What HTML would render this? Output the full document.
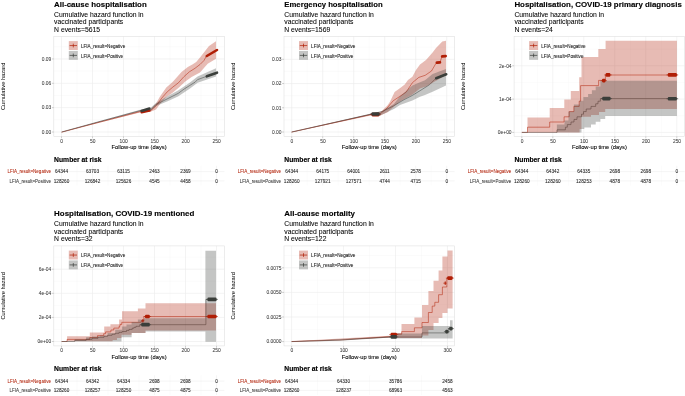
<!DOCTYPE html>
<html><head><meta charset="utf-8"><style>
html,body{margin:0;padding:0;background:#fff;}
svg{display:block;font-family:"Liberation Sans", sans-serif;will-change:transform;filter:blur(0.3px);}
</style></head><body>
<svg width="685" height="396" viewBox="0 0 685 396">
<rect width="685" height="396" fill="#fff"/>
<text x="54.1" y="6.9" font-size="7.9" text-anchor="start" font-weight="bold" fill="#000" textLength="92.6" lengthAdjust="spacingAndGlyphs" stroke="#000" stroke-width="0.12" >All-cause hospitalisation</text>
<text x="54.1" y="16.8" font-size="6.8" text-anchor="start" font-weight="normal" fill="#000" stroke="#000" stroke-width="0.06" >Cumulative hazard function in</text>
<text x="54.1" y="24.2" font-size="6.8" text-anchor="start" font-weight="normal" fill="#000" stroke="#000" stroke-width="0.06" >vaccinated participants</text>
<text x="54.1" y="31.5" font-size="6.8" text-anchor="start" font-weight="normal" fill="#000" stroke="#000" stroke-width="0.06" >N events=5615</text>
<line x1="77" y1="36.4" x2="77" y2="136.4" stroke="#f4f4f4" stroke-width="0.35"/>
<line x1="108" y1="36.4" x2="108" y2="136.4" stroke="#f4f4f4" stroke-width="0.35"/>
<line x1="139" y1="36.4" x2="139" y2="136.4" stroke="#f4f4f4" stroke-width="0.35"/>
<line x1="170" y1="36.4" x2="170" y2="136.4" stroke="#f4f4f4" stroke-width="0.35"/>
<line x1="201" y1="36.4" x2="201" y2="136.4" stroke="#f4f4f4" stroke-width="0.35"/>
<line x1="53.8" y1="119.82" x2="224.4" y2="119.82" stroke="#f4f4f4" stroke-width="0.35"/>
<line x1="53.8" y1="95.47" x2="224.4" y2="95.47" stroke="#f4f4f4" stroke-width="0.35"/>
<line x1="53.8" y1="71.12" x2="224.4" y2="71.12" stroke="#f4f4f4" stroke-width="0.35"/>
<line x1="53.8" y1="46.77" x2="224.4" y2="46.77" stroke="#f4f4f4" stroke-width="0.35"/>
<line x1="61.5" y1="36.4" x2="61.5" y2="136.4" stroke="#ebebeb" stroke-width="0.6"/>
<line x1="92.5" y1="36.4" x2="92.5" y2="136.4" stroke="#ebebeb" stroke-width="0.6"/>
<line x1="123.5" y1="36.4" x2="123.5" y2="136.4" stroke="#ebebeb" stroke-width="0.6"/>
<line x1="154.5" y1="36.4" x2="154.5" y2="136.4" stroke="#ebebeb" stroke-width="0.6"/>
<line x1="185.5" y1="36.4" x2="185.5" y2="136.4" stroke="#ebebeb" stroke-width="0.6"/>
<line x1="216.5" y1="36.4" x2="216.5" y2="136.4" stroke="#ebebeb" stroke-width="0.6"/>
<line x1="53.8" y1="132" x2="224.4" y2="132" stroke="#ebebeb" stroke-width="0.6"/>
<line x1="53.8" y1="107.65" x2="224.4" y2="107.65" stroke="#ebebeb" stroke-width="0.6"/>
<line x1="53.8" y1="83.3" x2="224.4" y2="83.3" stroke="#ebebeb" stroke-width="0.6"/>
<line x1="53.8" y1="58.95" x2="224.4" y2="58.95" stroke="#ebebeb" stroke-width="0.6"/>
<polyline points="61.6,132.2 100,122 141,111.4 150.6,110.8 156.1,105.8 161.7,98.2 167.2,91.9 172.8,87.1 178.3,82.9 183.9,76.7 189.4,71.8 195,68.3 200.1,64.4 203.9,60.6 206.4,56.2 217.2,49.9" fill="none" stroke="#b01e05" stroke-width="0.5" stroke-linejoin="miter"/>
<polyline points="61.6,132 100,121.4 141,110.4 150.6,109.9 156.1,104.4 161.7,101.7 167.2,98.9 172.8,96.1 178.3,93.3 183.9,89.2 189.4,85.7 195,82.2 197.6,79.6 200,78.75 206.4,76.4 217.2,72.6" fill="none" stroke="#3a3e3a" stroke-width="0.5" stroke-linejoin="miter"/>
<polygon points="61.6,132 141,110.6 150.6,109.4 156,103.5 160,96.5 166.3,87.5 172.6,82 176.4,77.8 181.5,72 187.8,67 192.8,64.2 196.2,62 200,57.5 209,46.1 216,41.3 216,58.7 207.7,63.8 200,72.4 191.6,77 185.3,81.5 178.9,87.5 172.6,92.8 166.3,97 160,104 156,109.5 150.6,111.8 141,112.2 61.6,132.3" fill="#b01e05" fill-opacity="0.3" stroke="none"/>
<polygon points="61.6,131.9 141,109.6 150.6,107.8 156,103 167,96.5 178,90.5 190,82.5 197.6,76.4 216,68.2 216,76.4 197.6,82.8 190,88.5 178,96.5 167,101.5 156,106 150.6,110.8 141,111 61.6,132.2" fill="#3a3e3a" fill-opacity="0.3" stroke="none"/>
<polyline points="141.6,112.3 149.4,110.5" fill="none" stroke="#b01e05" stroke-width="2.4" stroke-linecap="round" stroke-linejoin="round"/>
<polyline points="141.6,110.9 149.4,108.6" fill="none" stroke="#3a3e3a" stroke-width="2.6" stroke-linecap="round" stroke-linejoin="round"/>
<polyline points="206.8,56 217,50" fill="none" stroke="#b01e05" stroke-width="2.6" stroke-linecap="round" stroke-linejoin="round"/>
<polyline points="206.8,76.3 217,72.7" fill="none" stroke="#3a3e3a" stroke-width="2.6" stroke-linecap="round" stroke-linejoin="round"/>
<rect x="53.8" y="36.4" width="170.6" height="100" fill="none" stroke="#e0e0e0" stroke-width="0.6"/>
<line x1="51.9" y1="132" x2="53.8" y2="132" stroke="#a0a0a0" stroke-width="0.5"/>
<text x="51.3" y="133.75" font-size="4.9" text-anchor="end" font-weight="normal" fill="#3a3a3a" stroke="#3a3a3a" stroke-width="0.05" >0.00</text>
<line x1="51.9" y1="107.65" x2="53.8" y2="107.65" stroke="#a0a0a0" stroke-width="0.5"/>
<text x="51.3" y="109.4" font-size="4.9" text-anchor="end" font-weight="normal" fill="#3a3a3a" stroke="#3a3a3a" stroke-width="0.05" >0.03</text>
<line x1="51.9" y1="83.3" x2="53.8" y2="83.3" stroke="#a0a0a0" stroke-width="0.5"/>
<text x="51.3" y="85.05" font-size="4.9" text-anchor="end" font-weight="normal" fill="#3a3a3a" stroke="#3a3a3a" stroke-width="0.05" >0.06</text>
<line x1="51.9" y1="58.95" x2="53.8" y2="58.95" stroke="#a0a0a0" stroke-width="0.5"/>
<text x="51.3" y="60.7" font-size="4.9" text-anchor="end" font-weight="normal" fill="#3a3a3a" stroke="#3a3a3a" stroke-width="0.05" >0.09</text>
<line x1="61.5" y1="136.4" x2="61.5" y2="138.3" stroke="#a0a0a0" stroke-width="0.5"/>
<text x="61.7" y="142.7" font-size="4.9" text-anchor="middle" font-weight="normal" fill="#3a3a3a" stroke="#3a3a3a" stroke-width="0.05" >0</text>
<line x1="92.5" y1="136.4" x2="92.5" y2="138.3" stroke="#a0a0a0" stroke-width="0.5"/>
<text x="92.7" y="142.7" font-size="4.9" text-anchor="middle" font-weight="normal" fill="#3a3a3a" stroke="#3a3a3a" stroke-width="0.05" >50</text>
<line x1="123.5" y1="136.4" x2="123.5" y2="138.3" stroke="#a0a0a0" stroke-width="0.5"/>
<text x="123.7" y="142.7" font-size="4.9" text-anchor="middle" font-weight="normal" fill="#3a3a3a" stroke="#3a3a3a" stroke-width="0.05" >100</text>
<line x1="154.5" y1="136.4" x2="154.5" y2="138.3" stroke="#a0a0a0" stroke-width="0.5"/>
<text x="154.7" y="142.7" font-size="4.9" text-anchor="middle" font-weight="normal" fill="#3a3a3a" stroke="#3a3a3a" stroke-width="0.05" >150</text>
<line x1="185.5" y1="136.4" x2="185.5" y2="138.3" stroke="#a0a0a0" stroke-width="0.5"/>
<text x="185.7" y="142.7" font-size="4.9" text-anchor="middle" font-weight="normal" fill="#3a3a3a" stroke="#3a3a3a" stroke-width="0.05" >200</text>
<line x1="216.5" y1="136.4" x2="216.5" y2="138.3" stroke="#a0a0a0" stroke-width="0.5"/>
<text x="216.7" y="142.7" font-size="4.9" text-anchor="middle" font-weight="normal" fill="#3a3a3a" stroke="#3a3a3a" stroke-width="0.05" >250</text>
<text x="139.1" y="149" font-size="5.75" text-anchor="middle" font-weight="normal" fill="#000" stroke="#000" stroke-width="0.08" >Follow-up time (days)</text>
<text x="5" y="86.4" font-size="5.7" text-anchor="middle" font-weight="normal" fill="#000" transform="rotate(-90 5 86.4)">Cumulative hazard</text>
<rect x="68.8" y="41.1" width="9" height="8.9" fill="#b01e05" fill-opacity="0.3"/>
<line x1="69.6" y1="45.55" x2="77" y2="45.55" stroke="#b01e05" stroke-width="0.7"/>
<line x1="73.3" y1="43.7" x2="73.3" y2="47.4" stroke="#b01e05" stroke-width="0.7"/>
<text x="80.9" y="47.85" font-size="4.6" text-anchor="start" font-weight="normal" fill="#1a1a1a" stroke="#1a1a1a" stroke-width="0.08" >LFIA_result=Negative</text>
<rect x="68.8" y="50.95" width="9" height="8.9" fill="#3a3e3a" fill-opacity="0.3"/>
<line x1="69.6" y1="55.4" x2="77" y2="55.4" stroke="#3a3e3a" stroke-width="0.7"/>
<line x1="73.3" y1="53.55" x2="73.3" y2="57.25" stroke="#3a3e3a" stroke-width="0.7"/>
<text x="80.9" y="57.7" font-size="4.6" text-anchor="start" font-weight="normal" fill="#1a1a1a" stroke="#1a1a1a" stroke-width="0.08" >LFIA_result=Positive</text>
<text x="54.1" y="161.5" font-size="7.0" text-anchor="start" font-weight="bold" fill="#000" textLength="47.4" lengthAdjust="spacingAndGlyphs" stroke="#000" stroke-width="0.15" >Number at risk</text>
<line x1="77" y1="165.8" x2="77" y2="185.5" stroke="#f4f4f4" stroke-width="0.35"/>
<line x1="108" y1="165.8" x2="108" y2="185.5" stroke="#f4f4f4" stroke-width="0.35"/>
<line x1="139" y1="165.8" x2="139" y2="185.5" stroke="#f4f4f4" stroke-width="0.35"/>
<line x1="170" y1="165.8" x2="170" y2="185.5" stroke="#f4f4f4" stroke-width="0.35"/>
<line x1="201" y1="165.8" x2="201" y2="185.5" stroke="#f4f4f4" stroke-width="0.35"/>
<line x1="61.5" y1="165.8" x2="61.5" y2="185.5" stroke="#ebebeb" stroke-width="0.5"/>
<line x1="92.5" y1="165.8" x2="92.5" y2="185.5" stroke="#ebebeb" stroke-width="0.5"/>
<line x1="123.5" y1="165.8" x2="123.5" y2="185.5" stroke="#ebebeb" stroke-width="0.5"/>
<line x1="154.5" y1="165.8" x2="154.5" y2="185.5" stroke="#ebebeb" stroke-width="0.5"/>
<line x1="185.5" y1="165.8" x2="185.5" y2="185.5" stroke="#ebebeb" stroke-width="0.5"/>
<line x1="216.5" y1="165.8" x2="216.5" y2="185.5" stroke="#ebebeb" stroke-width="0.5"/>
<line x1="53.8" y1="171.6" x2="224.4" y2="171.6" stroke="#ebebeb" stroke-width="0.5"/>
<line x1="53.8" y1="180.9" x2="224.4" y2="180.9" stroke="#ebebeb" stroke-width="0.5"/>
<text x="50.9" y="173.2" font-size="4.5" text-anchor="end" font-weight="normal" fill="#b01e05" stroke="#b01e05" stroke-width="0.05" >LFIA_result=Negative</text>
<text x="50.9" y="182.5" font-size="4.5" text-anchor="end" font-weight="normal" fill="#333" stroke="#333" stroke-width="0.05" >LFIA_result=Positive</text>
<text x="61.5" y="173.3" font-size="4.7" text-anchor="middle" font-weight="normal" fill="#222" stroke="#222" stroke-width="0.06" >64344</text>
<text x="92.5" y="173.3" font-size="4.7" text-anchor="middle" font-weight="normal" fill="#222" stroke="#222" stroke-width="0.06" >63703</text>
<text x="123.5" y="173.3" font-size="4.7" text-anchor="middle" font-weight="normal" fill="#222" stroke="#222" stroke-width="0.06" >63115</text>
<text x="154.5" y="173.3" font-size="4.7" text-anchor="middle" font-weight="normal" fill="#222" stroke="#222" stroke-width="0.06" >2463</text>
<text x="185.5" y="173.3" font-size="4.7" text-anchor="middle" font-weight="normal" fill="#222" stroke="#222" stroke-width="0.06" >2369</text>
<text x="216.5" y="173.3" font-size="4.7" text-anchor="middle" font-weight="normal" fill="#222" stroke="#222" stroke-width="0.06" >0</text>
<text x="61.5" y="182.6" font-size="4.7" text-anchor="middle" font-weight="normal" fill="#222" stroke="#222" stroke-width="0.06" >128260</text>
<text x="92.5" y="182.6" font-size="4.7" text-anchor="middle" font-weight="normal" fill="#222" stroke="#222" stroke-width="0.06" >126842</text>
<text x="123.5" y="182.6" font-size="4.7" text-anchor="middle" font-weight="normal" fill="#222" stroke="#222" stroke-width="0.06" >125626</text>
<text x="154.5" y="182.6" font-size="4.7" text-anchor="middle" font-weight="normal" fill="#222" stroke="#222" stroke-width="0.06" >4545</text>
<text x="185.5" y="182.6" font-size="4.7" text-anchor="middle" font-weight="normal" fill="#222" stroke="#222" stroke-width="0.06" >4458</text>
<text x="216.5" y="182.6" font-size="4.7" text-anchor="middle" font-weight="normal" fill="#222" stroke="#222" stroke-width="0.06" >0</text>
<text x="284.3" y="6.9" font-size="7.9" text-anchor="start" font-weight="bold" fill="#000" textLength="98.4" lengthAdjust="spacingAndGlyphs" stroke="#000" stroke-width="0.12" >Emergency hospitalisation</text>
<text x="284.3" y="16.8" font-size="6.8" text-anchor="start" font-weight="normal" fill="#000" stroke="#000" stroke-width="0.06" >Cumulative hazard function in</text>
<text x="284.3" y="24.2" font-size="6.8" text-anchor="start" font-weight="normal" fill="#000" stroke="#000" stroke-width="0.06" >vaccinated participants</text>
<text x="284.3" y="31.5" font-size="6.8" text-anchor="start" font-weight="normal" fill="#000" stroke="#000" stroke-width="0.06" >N events=1569</text>
<line x1="307.2" y1="36.4" x2="307.2" y2="136.4" stroke="#f4f4f4" stroke-width="0.35"/>
<line x1="338.2" y1="36.4" x2="338.2" y2="136.4" stroke="#f4f4f4" stroke-width="0.35"/>
<line x1="369.2" y1="36.4" x2="369.2" y2="136.4" stroke="#f4f4f4" stroke-width="0.35"/>
<line x1="400.2" y1="36.4" x2="400.2" y2="136.4" stroke="#f4f4f4" stroke-width="0.35"/>
<line x1="431.2" y1="36.4" x2="431.2" y2="136.4" stroke="#f4f4f4" stroke-width="0.35"/>
<line x1="284" y1="119.89" x2="454.6" y2="119.89" stroke="#f4f4f4" stroke-width="0.35"/>
<line x1="284" y1="95.66" x2="454.6" y2="95.66" stroke="#f4f4f4" stroke-width="0.35"/>
<line x1="284" y1="71.42" x2="454.6" y2="71.42" stroke="#f4f4f4" stroke-width="0.35"/>
<line x1="284" y1="47.19" x2="454.6" y2="47.19" stroke="#f4f4f4" stroke-width="0.35"/>
<line x1="291.7" y1="36.4" x2="291.7" y2="136.4" stroke="#ebebeb" stroke-width="0.6"/>
<line x1="322.7" y1="36.4" x2="322.7" y2="136.4" stroke="#ebebeb" stroke-width="0.6"/>
<line x1="353.7" y1="36.4" x2="353.7" y2="136.4" stroke="#ebebeb" stroke-width="0.6"/>
<line x1="384.7" y1="36.4" x2="384.7" y2="136.4" stroke="#ebebeb" stroke-width="0.6"/>
<line x1="415.7" y1="36.4" x2="415.7" y2="136.4" stroke="#ebebeb" stroke-width="0.6"/>
<line x1="446.7" y1="36.4" x2="446.7" y2="136.4" stroke="#ebebeb" stroke-width="0.6"/>
<line x1="284" y1="132" x2="454.6" y2="132" stroke="#ebebeb" stroke-width="0.6"/>
<line x1="284" y1="107.77" x2="454.6" y2="107.77" stroke="#ebebeb" stroke-width="0.6"/>
<line x1="284" y1="83.54" x2="454.6" y2="83.54" stroke="#ebebeb" stroke-width="0.6"/>
<line x1="284" y1="59.31" x2="454.6" y2="59.31" stroke="#ebebeb" stroke-width="0.6"/>
<polyline points="291.6,132.1 371,114.5 380.6,113.5 387,108.1 393.3,100.7 399.7,96.5 406.1,92.2 412.4,82.7 418.8,77.4 425.2,75.3 431.5,71 435.8,63.6 440,62.5 442,56.2 446,56.2" fill="none" stroke="#b01e05" stroke-width="0.5" stroke-linejoin="miter"/>
<polyline points="291.6,132 371,114.2 382.7,111.3 393.3,106 404,99.7 412.4,95.4 421,90.1 429.4,84.8 435.8,78.4 446.4,74.2" fill="none" stroke="#3a3e3a" stroke-width="0.5" stroke-linejoin="miter"/>
<polygon points="291.6,132 371,114 380,112 381.3,111.6 387.6,105.3 390.1,101.5 394.6,92.1 400.2,88 404.7,84.5 408,80 412.4,76.8 416,70 420,64.5 426,60 432.6,52.5 436,48 442.3,41.6 446,40.7 446,75.3 432.6,82.8 426,86.5 420,88.5 412.4,94.4 400,101.5 393.9,106.6 387.6,112.3 380,115.8 371,115.4 291.6,132.3" fill="#b01e05" fill-opacity="0.3" stroke="none"/>
<polygon points="291.6,131.9 371,113.6 380,112.3 393.9,104.1 400,96.2 412.4,85.6 420,82.3 425,80.3 432.6,74 446,68.9 446,85.4 432.6,91.7 425,95 420,96.7 412.4,100.6 400,105 393.9,109.1 380,115.5 371,114.8 291.6,132.2" fill="#3a3e3a" fill-opacity="0.3" stroke="none"/>
<line x1="370.2" y1="114.6" x2="380.8" y2="114.6" stroke="#b01e05" stroke-width="0.6"/>
<rect x="371.5" y="112.75" width="8" height="3.7" rx="1.1" fill="#b01e05"/>
<line x1="370.2" y1="114" x2="380.8" y2="114" stroke="#3a3e3a" stroke-width="0.6"/>
<rect x="371.5" y="112.15" width="8" height="3.7" rx="1.1" fill="#3a3e3a"/>
<polyline points="436.8,62.6 440,62.4" fill="none" stroke="#b01e05" stroke-width="2.6" stroke-linecap="round" stroke-linejoin="round"/>
<polyline points="442.2,56.3 445.6,56.1" fill="none" stroke="#b01e05" stroke-width="2.8" stroke-linecap="round" stroke-linejoin="round"/>
<polyline points="436.2,78.2 446.2,74.3" fill="none" stroke="#3a3e3a" stroke-width="2.6" stroke-linecap="round" stroke-linejoin="round"/>
<rect x="284" y="36.4" width="170.6" height="100" fill="none" stroke="#e0e0e0" stroke-width="0.6"/>
<line x1="282.1" y1="132" x2="284" y2="132" stroke="#a0a0a0" stroke-width="0.5"/>
<text x="281.5" y="133.75" font-size="4.9" text-anchor="end" font-weight="normal" fill="#3a3a3a" stroke="#3a3a3a" stroke-width="0.05" >0.00</text>
<line x1="282.1" y1="107.77" x2="284" y2="107.77" stroke="#a0a0a0" stroke-width="0.5"/>
<text x="281.5" y="109.52" font-size="4.9" text-anchor="end" font-weight="normal" fill="#3a3a3a" stroke="#3a3a3a" stroke-width="0.05" >0.01</text>
<line x1="282.1" y1="83.54" x2="284" y2="83.54" stroke="#a0a0a0" stroke-width="0.5"/>
<text x="281.5" y="85.29" font-size="4.9" text-anchor="end" font-weight="normal" fill="#3a3a3a" stroke="#3a3a3a" stroke-width="0.05" >0.02</text>
<line x1="282.1" y1="59.31" x2="284" y2="59.31" stroke="#a0a0a0" stroke-width="0.5"/>
<text x="281.5" y="61.06" font-size="4.9" text-anchor="end" font-weight="normal" fill="#3a3a3a" stroke="#3a3a3a" stroke-width="0.05" >0.03</text>
<line x1="291.7" y1="136.4" x2="291.7" y2="138.3" stroke="#a0a0a0" stroke-width="0.5"/>
<text x="291.9" y="142.7" font-size="4.9" text-anchor="middle" font-weight="normal" fill="#3a3a3a" stroke="#3a3a3a" stroke-width="0.05" >0</text>
<line x1="322.7" y1="136.4" x2="322.7" y2="138.3" stroke="#a0a0a0" stroke-width="0.5"/>
<text x="322.9" y="142.7" font-size="4.9" text-anchor="middle" font-weight="normal" fill="#3a3a3a" stroke="#3a3a3a" stroke-width="0.05" >50</text>
<line x1="353.7" y1="136.4" x2="353.7" y2="138.3" stroke="#a0a0a0" stroke-width="0.5"/>
<text x="353.9" y="142.7" font-size="4.9" text-anchor="middle" font-weight="normal" fill="#3a3a3a" stroke="#3a3a3a" stroke-width="0.05" >100</text>
<line x1="384.7" y1="136.4" x2="384.7" y2="138.3" stroke="#a0a0a0" stroke-width="0.5"/>
<text x="384.9" y="142.7" font-size="4.9" text-anchor="middle" font-weight="normal" fill="#3a3a3a" stroke="#3a3a3a" stroke-width="0.05" >150</text>
<line x1="415.7" y1="136.4" x2="415.7" y2="138.3" stroke="#a0a0a0" stroke-width="0.5"/>
<text x="415.9" y="142.7" font-size="4.9" text-anchor="middle" font-weight="normal" fill="#3a3a3a" stroke="#3a3a3a" stroke-width="0.05" >200</text>
<line x1="446.7" y1="136.4" x2="446.7" y2="138.3" stroke="#a0a0a0" stroke-width="0.5"/>
<text x="446.9" y="142.7" font-size="4.9" text-anchor="middle" font-weight="normal" fill="#3a3a3a" stroke="#3a3a3a" stroke-width="0.05" >250</text>
<text x="369.3" y="149" font-size="5.75" text-anchor="middle" font-weight="normal" fill="#000" stroke="#000" stroke-width="0.08" >Follow-up time (days)</text>
<text x="235.2" y="86.4" font-size="5.7" text-anchor="middle" font-weight="normal" fill="#000" transform="rotate(-90 235.2 86.4)">Cumulative hazard</text>
<rect x="299" y="41.1" width="9" height="8.9" fill="#b01e05" fill-opacity="0.3"/>
<line x1="299.8" y1="45.55" x2="307.2" y2="45.55" stroke="#b01e05" stroke-width="0.7"/>
<line x1="303.5" y1="43.7" x2="303.5" y2="47.4" stroke="#b01e05" stroke-width="0.7"/>
<text x="311.1" y="47.85" font-size="4.6" text-anchor="start" font-weight="normal" fill="#1a1a1a" stroke="#1a1a1a" stroke-width="0.08" >LFIA_result=Negative</text>
<rect x="299" y="50.95" width="9" height="8.9" fill="#3a3e3a" fill-opacity="0.3"/>
<line x1="299.8" y1="55.4" x2="307.2" y2="55.4" stroke="#3a3e3a" stroke-width="0.7"/>
<line x1="303.5" y1="53.55" x2="303.5" y2="57.25" stroke="#3a3e3a" stroke-width="0.7"/>
<text x="311.1" y="57.7" font-size="4.6" text-anchor="start" font-weight="normal" fill="#1a1a1a" stroke="#1a1a1a" stroke-width="0.08" >LFIA_result=Positive</text>
<text x="284.3" y="161.5" font-size="7.0" text-anchor="start" font-weight="bold" fill="#000" textLength="47.4" lengthAdjust="spacingAndGlyphs" stroke="#000" stroke-width="0.15" >Number at risk</text>
<line x1="307.2" y1="165.8" x2="307.2" y2="185.5" stroke="#f4f4f4" stroke-width="0.35"/>
<line x1="338.2" y1="165.8" x2="338.2" y2="185.5" stroke="#f4f4f4" stroke-width="0.35"/>
<line x1="369.2" y1="165.8" x2="369.2" y2="185.5" stroke="#f4f4f4" stroke-width="0.35"/>
<line x1="400.2" y1="165.8" x2="400.2" y2="185.5" stroke="#f4f4f4" stroke-width="0.35"/>
<line x1="431.2" y1="165.8" x2="431.2" y2="185.5" stroke="#f4f4f4" stroke-width="0.35"/>
<line x1="291.7" y1="165.8" x2="291.7" y2="185.5" stroke="#ebebeb" stroke-width="0.5"/>
<line x1="322.7" y1="165.8" x2="322.7" y2="185.5" stroke="#ebebeb" stroke-width="0.5"/>
<line x1="353.7" y1="165.8" x2="353.7" y2="185.5" stroke="#ebebeb" stroke-width="0.5"/>
<line x1="384.7" y1="165.8" x2="384.7" y2="185.5" stroke="#ebebeb" stroke-width="0.5"/>
<line x1="415.7" y1="165.8" x2="415.7" y2="185.5" stroke="#ebebeb" stroke-width="0.5"/>
<line x1="446.7" y1="165.8" x2="446.7" y2="185.5" stroke="#ebebeb" stroke-width="0.5"/>
<line x1="284" y1="171.6" x2="454.6" y2="171.6" stroke="#ebebeb" stroke-width="0.5"/>
<line x1="284" y1="180.9" x2="454.6" y2="180.9" stroke="#ebebeb" stroke-width="0.5"/>
<text x="281.1" y="173.2" font-size="4.5" text-anchor="end" font-weight="normal" fill="#b01e05" stroke="#b01e05" stroke-width="0.05" >LFIA_result=Negative</text>
<text x="281.1" y="182.5" font-size="4.5" text-anchor="end" font-weight="normal" fill="#333" stroke="#333" stroke-width="0.05" >LFIA_result=Positive</text>
<text x="291.7" y="173.3" font-size="4.7" text-anchor="middle" font-weight="normal" fill="#222" stroke="#222" stroke-width="0.06" >64344</text>
<text x="322.7" y="173.3" font-size="4.7" text-anchor="middle" font-weight="normal" fill="#222" stroke="#222" stroke-width="0.06" >64175</text>
<text x="353.7" y="173.3" font-size="4.7" text-anchor="middle" font-weight="normal" fill="#222" stroke="#222" stroke-width="0.06" >64001</text>
<text x="384.7" y="173.3" font-size="4.7" text-anchor="middle" font-weight="normal" fill="#222" stroke="#222" stroke-width="0.06" >2611</text>
<text x="415.7" y="173.3" font-size="4.7" text-anchor="middle" font-weight="normal" fill="#222" stroke="#222" stroke-width="0.06" >2578</text>
<text x="446.7" y="173.3" font-size="4.7" text-anchor="middle" font-weight="normal" fill="#222" stroke="#222" stroke-width="0.06" >0</text>
<text x="291.7" y="182.6" font-size="4.7" text-anchor="middle" font-weight="normal" fill="#222" stroke="#222" stroke-width="0.06" >128260</text>
<text x="322.7" y="182.6" font-size="4.7" text-anchor="middle" font-weight="normal" fill="#222" stroke="#222" stroke-width="0.06" >127921</text>
<text x="353.7" y="182.6" font-size="4.7" text-anchor="middle" font-weight="normal" fill="#222" stroke="#222" stroke-width="0.06" >127571</text>
<text x="384.7" y="182.6" font-size="4.7" text-anchor="middle" font-weight="normal" fill="#222" stroke="#222" stroke-width="0.06" >4744</text>
<text x="415.7" y="182.6" font-size="4.7" text-anchor="middle" font-weight="normal" fill="#222" stroke="#222" stroke-width="0.06" >4715</text>
<text x="446.7" y="182.6" font-size="4.7" text-anchor="middle" font-weight="normal" fill="#222" stroke="#222" stroke-width="0.06" >0</text>
<text x="514.4" y="6.9" font-size="7.9" text-anchor="start" font-weight="bold" fill="#000" textLength="167.4" lengthAdjust="spacingAndGlyphs" stroke="#000" stroke-width="0.12" >Hospitalisation, COVID-19 primary diagnosis</text>
<text x="514.4" y="16.8" font-size="6.8" text-anchor="start" font-weight="normal" fill="#000" stroke="#000" stroke-width="0.06" >Cumulative hazard function in</text>
<text x="514.4" y="24.2" font-size="6.8" text-anchor="start" font-weight="normal" fill="#000" stroke="#000" stroke-width="0.06" >vaccinated participants</text>
<text x="514.4" y="31.5" font-size="6.8" text-anchor="start" font-weight="normal" fill="#000" stroke="#000" stroke-width="0.06" >N events=24</text>
<line x1="537.3" y1="36.4" x2="537.3" y2="136.4" stroke="#f4f4f4" stroke-width="0.35"/>
<line x1="568.3" y1="36.4" x2="568.3" y2="136.4" stroke="#f4f4f4" stroke-width="0.35"/>
<line x1="599.3" y1="36.4" x2="599.3" y2="136.4" stroke="#f4f4f4" stroke-width="0.35"/>
<line x1="630.3" y1="36.4" x2="630.3" y2="136.4" stroke="#f4f4f4" stroke-width="0.35"/>
<line x1="661.3" y1="36.4" x2="661.3" y2="136.4" stroke="#f4f4f4" stroke-width="0.35"/>
<line x1="514.1" y1="115.75" x2="684.7" y2="115.75" stroke="#f4f4f4" stroke-width="0.35"/>
<line x1="514.1" y1="82.45" x2="684.7" y2="82.45" stroke="#f4f4f4" stroke-width="0.35"/>
<line x1="514.1" y1="49.15" x2="684.7" y2="49.15" stroke="#f4f4f4" stroke-width="0.35"/>
<line x1="521.8" y1="36.4" x2="521.8" y2="136.4" stroke="#ebebeb" stroke-width="0.6"/>
<line x1="552.8" y1="36.4" x2="552.8" y2="136.4" stroke="#ebebeb" stroke-width="0.6"/>
<line x1="583.8" y1="36.4" x2="583.8" y2="136.4" stroke="#ebebeb" stroke-width="0.6"/>
<line x1="614.8" y1="36.4" x2="614.8" y2="136.4" stroke="#ebebeb" stroke-width="0.6"/>
<line x1="645.8" y1="36.4" x2="645.8" y2="136.4" stroke="#ebebeb" stroke-width="0.6"/>
<line x1="676.8" y1="36.4" x2="676.8" y2="136.4" stroke="#ebebeb" stroke-width="0.6"/>
<line x1="514.1" y1="132.4" x2="684.7" y2="132.4" stroke="#ebebeb" stroke-width="0.6"/>
<line x1="514.1" y1="99.1" x2="684.7" y2="99.1" stroke="#ebebeb" stroke-width="0.6"/>
<line x1="514.1" y1="65.8" x2="684.7" y2="65.8" stroke="#ebebeb" stroke-width="0.6"/>
<polyline points="521.8,132.4 527.5,132.4 527.5,127.2 549.7,127.2 549.7,122 564.1,122 564.1,116.8 569.2,116.8 569.2,111.6 573.9,111.6 573.9,106.4 579.2,106.4 579.2,101.2 580.6,101.2 580.6,85.6 598.6,85.6 598.6,80.4 605.4,80.4 605.4,75 677.5,75 677.5,75" fill="none" stroke="#b01e05" stroke-width="0.5" stroke-linejoin="miter"/>
<polyline points="521.8,132.4 557,132.4 557,129.8 565.4,129.8 565.4,127.2 567.3,127.2 567.3,124.6 571,124.6 571,122 574,122 574,119.4 577,119.4 577,116.8 581.5,116.8 581.5,114.2 583.5,114.2 583.5,111.6 586.2,111.6 586.2,109 591,109 591,106.4 595.7,106.4 595.7,103.8 598,103.8 598,101.2 600.4,101.2 600.4,98.6 677.5,98.6 677.5,98.6" fill="none" stroke="#3a3e3a" stroke-width="0.5" stroke-linejoin="miter"/>
<polygon points="521.8,132.4 527.5,132.4 527.5,117.5 549.7,117.5 549.7,108 564.3,108 564.3,99.5 570.8,99.5 570.8,91.1 579.2,91.1 579.2,77.2 581.5,77.2 581.5,57 598.3,57 598.3,48.9 605.6,48.9 605.6,40.8 676.9,40.8 676.9,40.8 676.9,109 676.9,109 605.2,109 605.2,112 599,112 599,115 591,115 591,116.8 581.5,116.8 581.5,129 579.6,129 579.6,132.4 521.8,132.4" fill="#b01e05" fill-opacity="0.3" stroke="none"/>
<polygon points="556.9,132.4 556.9,132.4 556.9,124.6 564.5,124.6 564.5,120.6 568.5,120.6 568.5,111.5 573.9,111.5 573.9,104.5 579.6,104.5 579.6,100.7 583.4,100.7 583.4,96.9 588.1,96.9 588.1,94 591.9,94 591.9,90.3 595.7,90.3 595.7,86.5 600.4,86.5 600.4,80.8 676.9,80.8 676.9,80.8 676.9,116.1 676.9,116.1 605.2,116.1 605.2,119 600.4,119 600.4,121.8 595.7,121.8 595.7,124.5 591,124.5 591,127.5 584.3,127.5 584.3,129 581.5,129 581.5,132.4 556.9,132.4" fill="#3a3e3a" fill-opacity="0.3" stroke="none"/>
<line x1="600.7" y1="80.6" x2="606.9" y2="80.6" stroke="#b01e05" stroke-width="0.6"/>
<rect x="602" y="78.75" width="3.6" height="3.7" rx="1.1" fill="#b01e05"/>
<line x1="604.3" y1="74.9" x2="611.7" y2="74.9" stroke="#b01e05" stroke-width="0.6"/>
<rect x="605.6" y="73.05" width="4.8" height="3.7" rx="1.1" fill="#b01e05"/>
<line x1="666.5" y1="74.9" x2="678.2" y2="74.9" stroke="#b01e05" stroke-width="0.6"/>
<rect x="667.8" y="73.05" width="9.1" height="3.7" rx="1.1" fill="#b01e05"/>
<line x1="600.9" y1="98.6" x2="611.9" y2="98.6" stroke="#3a3e3a" stroke-width="0.6"/>
<rect x="602.2" y="96.75" width="8.4" height="3.7" rx="1.1" fill="#3a3e3a"/>
<line x1="666.5" y1="98.75" x2="678.2" y2="98.75" stroke="#3a3e3a" stroke-width="0.6"/>
<rect x="667.8" y="96.9" width="9.1" height="3.7" rx="1.1" fill="#3a3e3a"/>
<rect x="514.1" y="36.4" width="170.6" height="100" fill="none" stroke="#e0e0e0" stroke-width="0.6"/>
<line x1="512.2" y1="132.4" x2="514.1" y2="132.4" stroke="#a0a0a0" stroke-width="0.5"/>
<text x="511.6" y="134.15" font-size="4.9" text-anchor="end" font-weight="normal" fill="#3a3a3a" stroke="#3a3a3a" stroke-width="0.05" >0e+00</text>
<line x1="512.2" y1="99.1" x2="514.1" y2="99.1" stroke="#a0a0a0" stroke-width="0.5"/>
<text x="511.6" y="100.85" font-size="4.9" text-anchor="end" font-weight="normal" fill="#3a3a3a" stroke="#3a3a3a" stroke-width="0.05" >1e-04</text>
<line x1="512.2" y1="65.8" x2="514.1" y2="65.8" stroke="#a0a0a0" stroke-width="0.5"/>
<text x="511.6" y="67.55" font-size="4.9" text-anchor="end" font-weight="normal" fill="#3a3a3a" stroke="#3a3a3a" stroke-width="0.05" >2e-04</text>
<line x1="521.8" y1="136.4" x2="521.8" y2="138.3" stroke="#a0a0a0" stroke-width="0.5"/>
<text x="522" y="142.7" font-size="4.9" text-anchor="middle" font-weight="normal" fill="#3a3a3a" stroke="#3a3a3a" stroke-width="0.05" >0</text>
<line x1="552.8" y1="136.4" x2="552.8" y2="138.3" stroke="#a0a0a0" stroke-width="0.5"/>
<text x="553" y="142.7" font-size="4.9" text-anchor="middle" font-weight="normal" fill="#3a3a3a" stroke="#3a3a3a" stroke-width="0.05" >50</text>
<line x1="583.8" y1="136.4" x2="583.8" y2="138.3" stroke="#a0a0a0" stroke-width="0.5"/>
<text x="584" y="142.7" font-size="4.9" text-anchor="middle" font-weight="normal" fill="#3a3a3a" stroke="#3a3a3a" stroke-width="0.05" >100</text>
<line x1="614.8" y1="136.4" x2="614.8" y2="138.3" stroke="#a0a0a0" stroke-width="0.5"/>
<text x="615" y="142.7" font-size="4.9" text-anchor="middle" font-weight="normal" fill="#3a3a3a" stroke="#3a3a3a" stroke-width="0.05" >150</text>
<line x1="645.8" y1="136.4" x2="645.8" y2="138.3" stroke="#a0a0a0" stroke-width="0.5"/>
<text x="646" y="142.7" font-size="4.9" text-anchor="middle" font-weight="normal" fill="#3a3a3a" stroke="#3a3a3a" stroke-width="0.05" >200</text>
<line x1="676.8" y1="136.4" x2="676.8" y2="138.3" stroke="#a0a0a0" stroke-width="0.5"/>
<text x="677" y="142.7" font-size="4.9" text-anchor="middle" font-weight="normal" fill="#3a3a3a" stroke="#3a3a3a" stroke-width="0.05" >250</text>
<text x="599.4" y="149" font-size="5.75" text-anchor="middle" font-weight="normal" fill="#000" stroke="#000" stroke-width="0.08" >Follow-up time (days)</text>
<text x="465.3" y="86.4" font-size="5.7" text-anchor="middle" font-weight="normal" fill="#000" transform="rotate(-90 465.3 86.4)">Cumulative hazard</text>
<rect x="529.1" y="41.1" width="9" height="8.9" fill="#b01e05" fill-opacity="0.3"/>
<line x1="529.9" y1="45.55" x2="537.3" y2="45.55" stroke="#b01e05" stroke-width="0.7"/>
<line x1="533.6" y1="43.7" x2="533.6" y2="47.4" stroke="#b01e05" stroke-width="0.7"/>
<text x="541.2" y="47.85" font-size="4.6" text-anchor="start" font-weight="normal" fill="#1a1a1a" stroke="#1a1a1a" stroke-width="0.08" >LFIA_result=Negative</text>
<rect x="529.1" y="50.95" width="9" height="8.9" fill="#3a3e3a" fill-opacity="0.3"/>
<line x1="529.9" y1="55.4" x2="537.3" y2="55.4" stroke="#3a3e3a" stroke-width="0.7"/>
<line x1="533.6" y1="53.55" x2="533.6" y2="57.25" stroke="#3a3e3a" stroke-width="0.7"/>
<text x="541.2" y="57.7" font-size="4.6" text-anchor="start" font-weight="normal" fill="#1a1a1a" stroke="#1a1a1a" stroke-width="0.08" >LFIA_result=Positive</text>
<text x="514.4" y="161.5" font-size="7.0" text-anchor="start" font-weight="bold" fill="#000" textLength="47.4" lengthAdjust="spacingAndGlyphs" stroke="#000" stroke-width="0.15" >Number at risk</text>
<line x1="537.3" y1="165.8" x2="537.3" y2="185.5" stroke="#f4f4f4" stroke-width="0.35"/>
<line x1="568.3" y1="165.8" x2="568.3" y2="185.5" stroke="#f4f4f4" stroke-width="0.35"/>
<line x1="599.3" y1="165.8" x2="599.3" y2="185.5" stroke="#f4f4f4" stroke-width="0.35"/>
<line x1="630.3" y1="165.8" x2="630.3" y2="185.5" stroke="#f4f4f4" stroke-width="0.35"/>
<line x1="661.3" y1="165.8" x2="661.3" y2="185.5" stroke="#f4f4f4" stroke-width="0.35"/>
<line x1="521.8" y1="165.8" x2="521.8" y2="185.5" stroke="#ebebeb" stroke-width="0.5"/>
<line x1="552.8" y1="165.8" x2="552.8" y2="185.5" stroke="#ebebeb" stroke-width="0.5"/>
<line x1="583.8" y1="165.8" x2="583.8" y2="185.5" stroke="#ebebeb" stroke-width="0.5"/>
<line x1="614.8" y1="165.8" x2="614.8" y2="185.5" stroke="#ebebeb" stroke-width="0.5"/>
<line x1="645.8" y1="165.8" x2="645.8" y2="185.5" stroke="#ebebeb" stroke-width="0.5"/>
<line x1="676.8" y1="165.8" x2="676.8" y2="185.5" stroke="#ebebeb" stroke-width="0.5"/>
<line x1="514.1" y1="171.6" x2="684.7" y2="171.6" stroke="#ebebeb" stroke-width="0.5"/>
<line x1="514.1" y1="180.9" x2="684.7" y2="180.9" stroke="#ebebeb" stroke-width="0.5"/>
<text x="511.2" y="173.2" font-size="4.5" text-anchor="end" font-weight="normal" fill="#b01e05" stroke="#b01e05" stroke-width="0.05" >LFIA_result=Negative</text>
<text x="511.2" y="182.5" font-size="4.5" text-anchor="end" font-weight="normal" fill="#333" stroke="#333" stroke-width="0.05" >LFIA_result=Positive</text>
<text x="521.8" y="173.3" font-size="4.7" text-anchor="middle" font-weight="normal" fill="#222" stroke="#222" stroke-width="0.06" >64344</text>
<text x="552.8" y="173.3" font-size="4.7" text-anchor="middle" font-weight="normal" fill="#222" stroke="#222" stroke-width="0.06" >64342</text>
<text x="583.8" y="173.3" font-size="4.7" text-anchor="middle" font-weight="normal" fill="#222" stroke="#222" stroke-width="0.06" >64335</text>
<text x="614.8" y="173.3" font-size="4.7" text-anchor="middle" font-weight="normal" fill="#222" stroke="#222" stroke-width="0.06" >2698</text>
<text x="645.8" y="173.3" font-size="4.7" text-anchor="middle" font-weight="normal" fill="#222" stroke="#222" stroke-width="0.06" >2698</text>
<text x="676.8" y="173.3" font-size="4.7" text-anchor="middle" font-weight="normal" fill="#222" stroke="#222" stroke-width="0.06" >0</text>
<text x="521.8" y="182.6" font-size="4.7" text-anchor="middle" font-weight="normal" fill="#222" stroke="#222" stroke-width="0.06" >128260</text>
<text x="552.8" y="182.6" font-size="4.7" text-anchor="middle" font-weight="normal" fill="#222" stroke="#222" stroke-width="0.06" >128260</text>
<text x="583.8" y="182.6" font-size="4.7" text-anchor="middle" font-weight="normal" fill="#222" stroke="#222" stroke-width="0.06" >128253</text>
<text x="614.8" y="182.6" font-size="4.7" text-anchor="middle" font-weight="normal" fill="#222" stroke="#222" stroke-width="0.06" >4878</text>
<text x="645.8" y="182.6" font-size="4.7" text-anchor="middle" font-weight="normal" fill="#222" stroke="#222" stroke-width="0.06" >4878</text>
<text x="676.8" y="182.6" font-size="4.7" text-anchor="middle" font-weight="normal" fill="#222" stroke="#222" stroke-width="0.06" >0</text>
<text x="54.1" y="216.4" font-size="7.9" text-anchor="start" font-weight="bold" fill="#000" textLength="140.3" lengthAdjust="spacingAndGlyphs" stroke="#000" stroke-width="0.12" >Hospitalisation, COVID-19 mentioned</text>
<text x="54.1" y="226.3" font-size="6.8" text-anchor="start" font-weight="normal" fill="#000" stroke="#000" stroke-width="0.06" >Cumulative hazard function in</text>
<text x="54.1" y="233.7" font-size="6.8" text-anchor="start" font-weight="normal" fill="#000" stroke="#000" stroke-width="0.06" >vaccinated participants</text>
<text x="54.1" y="241" font-size="6.8" text-anchor="start" font-weight="normal" fill="#000" stroke="#000" stroke-width="0.06" >N events=32</text>
<line x1="77" y1="245.9" x2="77" y2="345.9" stroke="#f4f4f4" stroke-width="0.35"/>
<line x1="108" y1="245.9" x2="108" y2="345.9" stroke="#f4f4f4" stroke-width="0.35"/>
<line x1="139" y1="245.9" x2="139" y2="345.9" stroke="#f4f4f4" stroke-width="0.35"/>
<line x1="170" y1="245.9" x2="170" y2="345.9" stroke="#f4f4f4" stroke-width="0.35"/>
<line x1="201" y1="245.9" x2="201" y2="345.9" stroke="#f4f4f4" stroke-width="0.35"/>
<line x1="53.8" y1="329.45" x2="224.4" y2="329.45" stroke="#f4f4f4" stroke-width="0.35"/>
<line x1="53.8" y1="305.35" x2="224.4" y2="305.35" stroke="#f4f4f4" stroke-width="0.35"/>
<line x1="53.8" y1="281.25" x2="224.4" y2="281.25" stroke="#f4f4f4" stroke-width="0.35"/>
<line x1="53.8" y1="257.15" x2="224.4" y2="257.15" stroke="#f4f4f4" stroke-width="0.35"/>
<line x1="61.5" y1="245.9" x2="61.5" y2="345.9" stroke="#ebebeb" stroke-width="0.6"/>
<line x1="92.5" y1="245.9" x2="92.5" y2="345.9" stroke="#ebebeb" stroke-width="0.6"/>
<line x1="123.5" y1="245.9" x2="123.5" y2="345.9" stroke="#ebebeb" stroke-width="0.6"/>
<line x1="154.5" y1="245.9" x2="154.5" y2="345.9" stroke="#ebebeb" stroke-width="0.6"/>
<line x1="185.5" y1="245.9" x2="185.5" y2="345.9" stroke="#ebebeb" stroke-width="0.6"/>
<line x1="216.5" y1="245.9" x2="216.5" y2="345.9" stroke="#ebebeb" stroke-width="0.6"/>
<line x1="53.8" y1="341.5" x2="224.4" y2="341.5" stroke="#ebebeb" stroke-width="0.6"/>
<line x1="53.8" y1="317.4" x2="224.4" y2="317.4" stroke="#ebebeb" stroke-width="0.6"/>
<line x1="53.8" y1="293.3" x2="224.4" y2="293.3" stroke="#ebebeb" stroke-width="0.6"/>
<line x1="53.8" y1="269.2" x2="224.4" y2="269.2" stroke="#ebebeb" stroke-width="0.6"/>
<polyline points="61.6,341.5 67.1,341.5 67.1,339.4 89.8,339.4 89.8,337.5 97.5,337.5 97.5,335.6 103.7,335.6 103.7,333.7 105.6,333.7 105.6,331.9 110.9,331.9 110.9,330 113.8,330 113.8,328.1 119.1,328.1 119.1,326.3 120,326.3 120,324.4 121.8,324.4 121.8,322.3 141.2,322.3 141.2,320.9 143.8,320.9 143.8,316.5 216.6,316.5 216.6,316.5" fill="none" stroke="#b01e05" stroke-width="0.5" stroke-linejoin="miter"/>
<polyline points="61.6,341.5 74.7,341.5 74.7,340.4 86.1,340.4 86.1,339.3 92,339.3 92,338.3 98,338.3 98,337.3 104,337.3 104,336.3 107.6,336.3 107.6,335.3 112,335.3 112,334.3 115.2,334.3 115.2,333.3 119,333.3 119,332.4 122.1,332.4 122.1,331.5 126.5,331.5 126.5,330.4 129,330.4 129,329.4 132.2,329.4 132.2,328.2 134,328.2 134,327.3 136,327.3 136,326.3 139.8,326.3 139.8,324.7 205.9,324.7 205.9,299.4 216.6,299.4 216.6,299.4" fill="none" stroke="#3a3e3a" stroke-width="0.5" stroke-linejoin="miter"/>
<polygon points="61.6,341.5 67.1,341.5 67.1,336.2 89.8,336.2 89.8,332.5 104.2,332.5 104.2,326.6 110.4,326.6 110.4,324.2 119.1,324.2 119.1,319.4 122,319.4 122,311.2 137.9,311.2 137.9,308.6 145.5,308.6 145.5,303.2 216,303.2 216,303.2 216,330.4 216,330.4 145.5,330.4 145.5,332.9 131.6,332.9 131.6,334.8 121.5,334.8 121.5,338 117,338 117,340 112.6,340 112.6,341.2 67.1,341.2 67.1,341.5 61.6,341.5" fill="#b01e05" fill-opacity="0.3" stroke="none"/>
<polygon points="74.7,341.5 74.7,341.5 74.7,339.2 86.1,339.2 86.1,337.3 92,337.3 92,336.5 100,336.5 100,335.4 107.6,335.4 107.6,332.9 115.2,332.9 115.2,329.7 122.1,329.7 122.1,326.6 126.5,326.6 126.5,324.5 131.6,324.5 131.6,322.1 137.9,322.1 137.9,319.6 144.2,319.6 144.2,318.2 205.4,318.2 205.4,250.7 216,250.7 216,250.7 216,341.7 216,341.7 205.4,341.7 205.4,331.6 145.5,331.6 145.5,333.1 131.6,333.1 131.6,337.3 121.5,337.3 121.5,341.5 74.7,341.5" fill="#3a3e3a" fill-opacity="0.3" stroke="none"/>
<line x1="141" y1="320.8" x2="144.3" y2="320.8" stroke="#b01e05" stroke-width="0.6"/>
<rect x="142.3" y="318.95" width="1.2" height="3.7" rx="1.1" fill="#b01e05"/>
<line x1="143.7" y1="316.5" x2="151.1" y2="316.5" stroke="#b01e05" stroke-width="0.6"/>
<rect x="145" y="314.65" width="4.8" height="3.7" rx="1.1" fill="#b01e05"/>
<line x1="206.1" y1="316.5" x2="217.9" y2="316.5" stroke="#b01e05" stroke-width="0.6"/>
<rect x="207.4" y="314.65" width="9.2" height="3.7" rx="1.1" fill="#b01e05"/>
<line x1="139.9" y1="324.7" x2="151.1" y2="324.7" stroke="#3a3e3a" stroke-width="0.6"/>
<rect x="141.2" y="322.85" width="8.6" height="3.7" rx="1.1" fill="#3a3e3a"/>
<line x1="206.1" y1="299.4" x2="217.9" y2="299.4" stroke="#3a3e3a" stroke-width="0.6"/>
<rect x="207.4" y="297.55" width="9.2" height="3.7" rx="1.1" fill="#3a3e3a"/>
<rect x="53.8" y="245.9" width="170.6" height="100" fill="none" stroke="#e0e0e0" stroke-width="0.6"/>
<line x1="51.9" y1="341.5" x2="53.8" y2="341.5" stroke="#a0a0a0" stroke-width="0.5"/>
<text x="51.3" y="343.25" font-size="4.9" text-anchor="end" font-weight="normal" fill="#3a3a3a" stroke="#3a3a3a" stroke-width="0.05" >0e+00</text>
<line x1="51.9" y1="317.4" x2="53.8" y2="317.4" stroke="#a0a0a0" stroke-width="0.5"/>
<text x="51.3" y="319.15" font-size="4.9" text-anchor="end" font-weight="normal" fill="#3a3a3a" stroke="#3a3a3a" stroke-width="0.05" >2e-04</text>
<line x1="51.9" y1="293.3" x2="53.8" y2="293.3" stroke="#a0a0a0" stroke-width="0.5"/>
<text x="51.3" y="295.05" font-size="4.9" text-anchor="end" font-weight="normal" fill="#3a3a3a" stroke="#3a3a3a" stroke-width="0.05" >4e-04</text>
<line x1="51.9" y1="269.2" x2="53.8" y2="269.2" stroke="#a0a0a0" stroke-width="0.5"/>
<text x="51.3" y="270.95" font-size="4.9" text-anchor="end" font-weight="normal" fill="#3a3a3a" stroke="#3a3a3a" stroke-width="0.05" >6e-04</text>
<line x1="61.5" y1="345.9" x2="61.5" y2="347.8" stroke="#a0a0a0" stroke-width="0.5"/>
<text x="61.7" y="352.2" font-size="4.9" text-anchor="middle" font-weight="normal" fill="#3a3a3a" stroke="#3a3a3a" stroke-width="0.05" >0</text>
<line x1="92.5" y1="345.9" x2="92.5" y2="347.8" stroke="#a0a0a0" stroke-width="0.5"/>
<text x="92.7" y="352.2" font-size="4.9" text-anchor="middle" font-weight="normal" fill="#3a3a3a" stroke="#3a3a3a" stroke-width="0.05" >50</text>
<line x1="123.5" y1="345.9" x2="123.5" y2="347.8" stroke="#a0a0a0" stroke-width="0.5"/>
<text x="123.7" y="352.2" font-size="4.9" text-anchor="middle" font-weight="normal" fill="#3a3a3a" stroke="#3a3a3a" stroke-width="0.05" >100</text>
<line x1="154.5" y1="345.9" x2="154.5" y2="347.8" stroke="#a0a0a0" stroke-width="0.5"/>
<text x="154.7" y="352.2" font-size="4.9" text-anchor="middle" font-weight="normal" fill="#3a3a3a" stroke="#3a3a3a" stroke-width="0.05" >150</text>
<line x1="185.5" y1="345.9" x2="185.5" y2="347.8" stroke="#a0a0a0" stroke-width="0.5"/>
<text x="185.7" y="352.2" font-size="4.9" text-anchor="middle" font-weight="normal" fill="#3a3a3a" stroke="#3a3a3a" stroke-width="0.05" >200</text>
<line x1="216.5" y1="345.9" x2="216.5" y2="347.8" stroke="#a0a0a0" stroke-width="0.5"/>
<text x="216.7" y="352.2" font-size="4.9" text-anchor="middle" font-weight="normal" fill="#3a3a3a" stroke="#3a3a3a" stroke-width="0.05" >250</text>
<text x="139.1" y="358.5" font-size="5.75" text-anchor="middle" font-weight="normal" fill="#000" stroke="#000" stroke-width="0.08" >Follow-up time (days)</text>
<text x="5" y="295.9" font-size="5.7" text-anchor="middle" font-weight="normal" fill="#000" transform="rotate(-90 5 295.9)">Cumulative hazard</text>
<rect x="68.8" y="250.6" width="9" height="8.9" fill="#b01e05" fill-opacity="0.3"/>
<line x1="69.6" y1="255.05" x2="77" y2="255.05" stroke="#b01e05" stroke-width="0.7"/>
<line x1="73.3" y1="253.2" x2="73.3" y2="256.9" stroke="#b01e05" stroke-width="0.7"/>
<text x="80.9" y="257.35" font-size="4.6" text-anchor="start" font-weight="normal" fill="#1a1a1a" stroke="#1a1a1a" stroke-width="0.08" >LFIA_result=Negative</text>
<rect x="68.8" y="260.45" width="9" height="8.9" fill="#3a3e3a" fill-opacity="0.3"/>
<line x1="69.6" y1="264.9" x2="77" y2="264.9" stroke="#3a3e3a" stroke-width="0.7"/>
<line x1="73.3" y1="263.05" x2="73.3" y2="266.75" stroke="#3a3e3a" stroke-width="0.7"/>
<text x="80.9" y="267.2" font-size="4.6" text-anchor="start" font-weight="normal" fill="#1a1a1a" stroke="#1a1a1a" stroke-width="0.08" >LFIA_result=Positive</text>
<text x="54.1" y="371" font-size="7.0" text-anchor="start" font-weight="bold" fill="#000" textLength="47.4" lengthAdjust="spacingAndGlyphs" stroke="#000" stroke-width="0.15" >Number at risk</text>
<line x1="77" y1="375.3" x2="77" y2="395" stroke="#f4f4f4" stroke-width="0.35"/>
<line x1="108" y1="375.3" x2="108" y2="395" stroke="#f4f4f4" stroke-width="0.35"/>
<line x1="139" y1="375.3" x2="139" y2="395" stroke="#f4f4f4" stroke-width="0.35"/>
<line x1="170" y1="375.3" x2="170" y2="395" stroke="#f4f4f4" stroke-width="0.35"/>
<line x1="201" y1="375.3" x2="201" y2="395" stroke="#f4f4f4" stroke-width="0.35"/>
<line x1="61.5" y1="375.3" x2="61.5" y2="395" stroke="#ebebeb" stroke-width="0.5"/>
<line x1="92.5" y1="375.3" x2="92.5" y2="395" stroke="#ebebeb" stroke-width="0.5"/>
<line x1="123.5" y1="375.3" x2="123.5" y2="395" stroke="#ebebeb" stroke-width="0.5"/>
<line x1="154.5" y1="375.3" x2="154.5" y2="395" stroke="#ebebeb" stroke-width="0.5"/>
<line x1="185.5" y1="375.3" x2="185.5" y2="395" stroke="#ebebeb" stroke-width="0.5"/>
<line x1="216.5" y1="375.3" x2="216.5" y2="395" stroke="#ebebeb" stroke-width="0.5"/>
<line x1="53.8" y1="381.1" x2="224.4" y2="381.1" stroke="#ebebeb" stroke-width="0.5"/>
<line x1="53.8" y1="390.4" x2="224.4" y2="390.4" stroke="#ebebeb" stroke-width="0.5"/>
<text x="50.9" y="382.7" font-size="4.5" text-anchor="end" font-weight="normal" fill="#b01e05" stroke="#b01e05" stroke-width="0.05" >LFIA_result=Negative</text>
<text x="50.9" y="392" font-size="4.5" text-anchor="end" font-weight="normal" fill="#333" stroke="#333" stroke-width="0.05" >LFIA_result=Positive</text>
<text x="61.5" y="382.8" font-size="4.7" text-anchor="middle" font-weight="normal" fill="#222" stroke="#222" stroke-width="0.06" >64344</text>
<text x="92.5" y="382.8" font-size="4.7" text-anchor="middle" font-weight="normal" fill="#222" stroke="#222" stroke-width="0.06" >64342</text>
<text x="123.5" y="382.8" font-size="4.7" text-anchor="middle" font-weight="normal" fill="#222" stroke="#222" stroke-width="0.06" >64334</text>
<text x="154.5" y="382.8" font-size="4.7" text-anchor="middle" font-weight="normal" fill="#222" stroke="#222" stroke-width="0.06" >2698</text>
<text x="185.5" y="382.8" font-size="4.7" text-anchor="middle" font-weight="normal" fill="#222" stroke="#222" stroke-width="0.06" >2698</text>
<text x="216.5" y="382.8" font-size="4.7" text-anchor="middle" font-weight="normal" fill="#222" stroke="#222" stroke-width="0.06" >0</text>
<text x="61.5" y="392.1" font-size="4.7" text-anchor="middle" font-weight="normal" fill="#222" stroke="#222" stroke-width="0.06" >128260</text>
<text x="92.5" y="392.1" font-size="4.7" text-anchor="middle" font-weight="normal" fill="#222" stroke="#222" stroke-width="0.06" >128257</text>
<text x="123.5" y="392.1" font-size="4.7" text-anchor="middle" font-weight="normal" fill="#222" stroke="#222" stroke-width="0.06" >128250</text>
<text x="154.5" y="392.1" font-size="4.7" text-anchor="middle" font-weight="normal" fill="#222" stroke="#222" stroke-width="0.06" >4875</text>
<text x="185.5" y="392.1" font-size="4.7" text-anchor="middle" font-weight="normal" fill="#222" stroke="#222" stroke-width="0.06" >4875</text>
<text x="216.5" y="392.1" font-size="4.7" text-anchor="middle" font-weight="normal" fill="#222" stroke="#222" stroke-width="0.06" >0</text>
<text x="284.3" y="216.4" font-size="7.9" text-anchor="start" font-weight="bold" fill="#000" textLength="70.7" lengthAdjust="spacingAndGlyphs" stroke="#000" stroke-width="0.12" >All-cause mortality</text>
<text x="284.3" y="226.3" font-size="6.8" text-anchor="start" font-weight="normal" fill="#000" stroke="#000" stroke-width="0.06" >Cumulative hazard function in</text>
<text x="284.3" y="233.7" font-size="6.8" text-anchor="start" font-weight="normal" fill="#000" stroke="#000" stroke-width="0.06" >vaccinated participants</text>
<text x="284.3" y="241" font-size="6.8" text-anchor="start" font-weight="normal" fill="#000" stroke="#000" stroke-width="0.06" >N events=122</text>
<line x1="317.57" y1="245.9" x2="317.57" y2="345.9" stroke="#f4f4f4" stroke-width="0.35"/>
<line x1="369.52" y1="245.9" x2="369.52" y2="345.9" stroke="#f4f4f4" stroke-width="0.35"/>
<line x1="421.48" y1="245.9" x2="421.48" y2="345.9" stroke="#f4f4f4" stroke-width="0.35"/>
<line x1="284" y1="329.3" x2="454.6" y2="329.3" stroke="#f4f4f4" stroke-width="0.35"/>
<line x1="284" y1="304.7" x2="454.6" y2="304.7" stroke="#f4f4f4" stroke-width="0.35"/>
<line x1="284" y1="280.1" x2="454.6" y2="280.1" stroke="#f4f4f4" stroke-width="0.35"/>
<line x1="284" y1="255.5" x2="454.6" y2="255.5" stroke="#f4f4f4" stroke-width="0.35"/>
<line x1="291.6" y1="245.9" x2="291.6" y2="345.9" stroke="#ebebeb" stroke-width="0.6"/>
<line x1="343.55" y1="245.9" x2="343.55" y2="345.9" stroke="#ebebeb" stroke-width="0.6"/>
<line x1="395.5" y1="245.9" x2="395.5" y2="345.9" stroke="#ebebeb" stroke-width="0.6"/>
<line x1="447.45" y1="245.9" x2="447.45" y2="345.9" stroke="#ebebeb" stroke-width="0.6"/>
<line x1="284" y1="341.6" x2="454.6" y2="341.6" stroke="#ebebeb" stroke-width="0.6"/>
<line x1="284" y1="317" x2="454.6" y2="317" stroke="#ebebeb" stroke-width="0.6"/>
<line x1="284" y1="292.4" x2="454.6" y2="292.4" stroke="#ebebeb" stroke-width="0.6"/>
<line x1="284" y1="267.8" x2="454.6" y2="267.8" stroke="#ebebeb" stroke-width="0.6"/>
<polyline points="291.6,341.5 340,340 390.3,336.6 395.3,336.6 395.3,336.6 395.3,334.2 401.7,334.2 401.7,331.6 414.4,331.6 414.4,327.8 422,327.8 422,322.5 428.4,322.5 428.4,312.5 432.2,312.5 432.2,306.1 434.8,306.1 434.8,302.3 438.6,302.3 438.6,294.7 442.4,294.7 442.4,287 446.8,287 446.8,278.1 452.6,278.1 452.6,278.1" fill="none" stroke="#b01e05" stroke-width="0.5" stroke-linejoin="miter"/>
<polyline points="291.6,341.6 340,340.2 390.3,337 397.4,337 422,337 422,332.9 448.6,332.9 448.6,328.6 452.6,328.6 452.6,328.6" fill="none" stroke="#3a3e3a" stroke-width="0.5" stroke-linejoin="miter"/>
<polygon points="291.6,341.3 390,335.8 395,333 401.5,333 401.5,333 401.5,324 414.4,324 414.4,317.6 422,317.6 422,304.9 428.4,304.9 428.4,290.9 433.5,290.9 433.5,280.7 438.6,280.7 438.6,270.5 442.4,270.5 442.4,256.5 447.5,256.5 447.5,250.6 452.6,250.6 452.6,250.6 452.6,308.5 452.6,308.5 447.5,308.5 447.5,313 442.4,313 442.4,318 438.6,318 438.6,323 433.5,323 433.5,330 428.4,330 428.4,335.4 422,335.4 422,338 401.5,338 395,337.8 390,337.6 291.6,341.7" fill="#b01e05" fill-opacity="0.3" stroke="none"/>
<polygon points="291.6,341.5 390,336.4 397,336 397,333.5 422,333.5 422,326 450,326 450,320.2 452.6,320.2 452.6,320.2 452.6,338.4 452.6,338.4 422,338.4 397,338.5 390,337.8 291.6,341.7" fill="#3a3e3a" fill-opacity="0.3" stroke="none"/>
<line x1="389.3" y1="334.5" x2="398.2" y2="334.5" stroke="#b01e05" stroke-width="0.6"/>
<rect x="390.6" y="332.65" width="6.3" height="3.7" rx="1.1" fill="#b01e05"/>
<line x1="389.3" y1="336.9" x2="398.2" y2="336.9" stroke="#3a3e3a" stroke-width="0.6"/>
<rect x="390.6" y="335.05" width="6.3" height="3.7" rx="1.1" fill="#3a3e3a"/>
<line x1="443.3" y1="283.2" x2="446.7" y2="283.2" stroke="#b01e05" stroke-width="0.6"/>
<rect x="444.6" y="281.35" width="1.2" height="3.7" rx="1.1" fill="#b01e05"/>
<line x1="445.9" y1="278.1" x2="453.9" y2="278.1" stroke="#b01e05" stroke-width="0.6"/>
<rect x="447.2" y="276.25" width="5.4" height="3.7" rx="1.1" fill="#b01e05"/>
<line x1="443.9" y1="331.6" x2="449.5" y2="331.6" stroke="#3a3e3a" stroke-width="0.6"/>
<rect x="445.2" y="329.75" width="3" height="3.7" rx="1.1" fill="#3a3e3a"/>
<line x1="447.9" y1="328.6" x2="453.9" y2="328.6" stroke="#3a3e3a" stroke-width="0.6"/>
<rect x="449.2" y="326.75" width="3.4" height="3.7" rx="1.1" fill="#3a3e3a"/>
<rect x="284" y="245.9" width="170.6" height="100" fill="none" stroke="#e0e0e0" stroke-width="0.6"/>
<line x1="282.1" y1="341.6" x2="284" y2="341.6" stroke="#a0a0a0" stroke-width="0.5"/>
<text x="281.5" y="343.35" font-size="4.9" text-anchor="end" font-weight="normal" fill="#3a3a3a" stroke="#3a3a3a" stroke-width="0.05" >0.0000</text>
<line x1="282.1" y1="317" x2="284" y2="317" stroke="#a0a0a0" stroke-width="0.5"/>
<text x="281.5" y="318.75" font-size="4.9" text-anchor="end" font-weight="normal" fill="#3a3a3a" stroke="#3a3a3a" stroke-width="0.05" >0.0025</text>
<line x1="282.1" y1="292.4" x2="284" y2="292.4" stroke="#a0a0a0" stroke-width="0.5"/>
<text x="281.5" y="294.15" font-size="4.9" text-anchor="end" font-weight="normal" fill="#3a3a3a" stroke="#3a3a3a" stroke-width="0.05" >0.0050</text>
<line x1="282.1" y1="267.8" x2="284" y2="267.8" stroke="#a0a0a0" stroke-width="0.5"/>
<text x="281.5" y="269.55" font-size="4.9" text-anchor="end" font-weight="normal" fill="#3a3a3a" stroke="#3a3a3a" stroke-width="0.05" >0.0075</text>
<line x1="291.6" y1="345.9" x2="291.6" y2="347.8" stroke="#a0a0a0" stroke-width="0.5"/>
<text x="291.8" y="352.2" font-size="4.9" text-anchor="middle" font-weight="normal" fill="#3a3a3a" stroke="#3a3a3a" stroke-width="0.05" >0</text>
<line x1="343.55" y1="345.9" x2="343.55" y2="347.8" stroke="#a0a0a0" stroke-width="0.5"/>
<text x="343.75" y="352.2" font-size="4.9" text-anchor="middle" font-weight="normal" fill="#3a3a3a" stroke="#3a3a3a" stroke-width="0.05" >100</text>
<line x1="395.5" y1="345.9" x2="395.5" y2="347.8" stroke="#a0a0a0" stroke-width="0.5"/>
<text x="395.7" y="352.2" font-size="4.9" text-anchor="middle" font-weight="normal" fill="#3a3a3a" stroke="#3a3a3a" stroke-width="0.05" >200</text>
<line x1="447.45" y1="345.9" x2="447.45" y2="347.8" stroke="#a0a0a0" stroke-width="0.5"/>
<text x="447.65" y="352.2" font-size="4.9" text-anchor="middle" font-weight="normal" fill="#3a3a3a" stroke="#3a3a3a" stroke-width="0.05" >300</text>
<text x="369.3" y="358.5" font-size="5.75" text-anchor="middle" font-weight="normal" fill="#000" stroke="#000" stroke-width="0.08" >Follow-up time (days)</text>
<text x="235.2" y="295.9" font-size="5.7" text-anchor="middle" font-weight="normal" fill="#000" transform="rotate(-90 235.2 295.9)">Cumulative hazard</text>
<rect x="299" y="250.6" width="9" height="8.9" fill="#b01e05" fill-opacity="0.3"/>
<line x1="299.8" y1="255.05" x2="307.2" y2="255.05" stroke="#b01e05" stroke-width="0.7"/>
<line x1="303.5" y1="253.2" x2="303.5" y2="256.9" stroke="#b01e05" stroke-width="0.7"/>
<text x="311.1" y="257.35" font-size="4.6" text-anchor="start" font-weight="normal" fill="#1a1a1a" stroke="#1a1a1a" stroke-width="0.08" >LFIA_result=Negative</text>
<rect x="299" y="260.45" width="9" height="8.9" fill="#3a3e3a" fill-opacity="0.3"/>
<line x1="299.8" y1="264.9" x2="307.2" y2="264.9" stroke="#3a3e3a" stroke-width="0.7"/>
<line x1="303.5" y1="263.05" x2="303.5" y2="266.75" stroke="#3a3e3a" stroke-width="0.7"/>
<text x="311.1" y="267.2" font-size="4.6" text-anchor="start" font-weight="normal" fill="#1a1a1a" stroke="#1a1a1a" stroke-width="0.08" >LFIA_result=Positive</text>
<text x="284.3" y="371" font-size="7.0" text-anchor="start" font-weight="bold" fill="#000" textLength="47.4" lengthAdjust="spacingAndGlyphs" stroke="#000" stroke-width="0.15" >Number at risk</text>
<line x1="317.57" y1="375.3" x2="317.57" y2="395" stroke="#f4f4f4" stroke-width="0.35"/>
<line x1="369.52" y1="375.3" x2="369.52" y2="395" stroke="#f4f4f4" stroke-width="0.35"/>
<line x1="421.48" y1="375.3" x2="421.48" y2="395" stroke="#f4f4f4" stroke-width="0.35"/>
<line x1="291.6" y1="375.3" x2="291.6" y2="395" stroke="#ebebeb" stroke-width="0.5"/>
<line x1="343.55" y1="375.3" x2="343.55" y2="395" stroke="#ebebeb" stroke-width="0.5"/>
<line x1="395.5" y1="375.3" x2="395.5" y2="395" stroke="#ebebeb" stroke-width="0.5"/>
<line x1="447.45" y1="375.3" x2="447.45" y2="395" stroke="#ebebeb" stroke-width="0.5"/>
<line x1="284" y1="381.1" x2="454.6" y2="381.1" stroke="#ebebeb" stroke-width="0.5"/>
<line x1="284" y1="390.4" x2="454.6" y2="390.4" stroke="#ebebeb" stroke-width="0.5"/>
<text x="281.1" y="382.7" font-size="4.5" text-anchor="end" font-weight="normal" fill="#b01e05" stroke="#b01e05" stroke-width="0.05" >LFIA_result=Negative</text>
<text x="281.1" y="392" font-size="4.5" text-anchor="end" font-weight="normal" fill="#333" stroke="#333" stroke-width="0.05" >LFIA_result=Positive</text>
<text x="291.6" y="382.8" font-size="4.7" text-anchor="middle" font-weight="normal" fill="#222" stroke="#222" stroke-width="0.06" >64344</text>
<text x="343.55" y="382.8" font-size="4.7" text-anchor="middle" font-weight="normal" fill="#222" stroke="#222" stroke-width="0.06" >64330</text>
<text x="395.5" y="382.8" font-size="4.7" text-anchor="middle" font-weight="normal" fill="#222" stroke="#222" stroke-width="0.06" >35786</text>
<text x="447.45" y="382.8" font-size="4.7" text-anchor="middle" font-weight="normal" fill="#222" stroke="#222" stroke-width="0.06" >2458</text>
<text x="291.6" y="392.1" font-size="4.7" text-anchor="middle" font-weight="normal" fill="#222" stroke="#222" stroke-width="0.06" >128260</text>
<text x="343.55" y="392.1" font-size="4.7" text-anchor="middle" font-weight="normal" fill="#222" stroke="#222" stroke-width="0.06" >128237</text>
<text x="395.5" y="392.1" font-size="4.7" text-anchor="middle" font-weight="normal" fill="#222" stroke="#222" stroke-width="0.06" >68963</text>
<text x="447.45" y="392.1" font-size="4.7" text-anchor="middle" font-weight="normal" fill="#222" stroke="#222" stroke-width="0.06" >4563</text>
</svg></body></html>
